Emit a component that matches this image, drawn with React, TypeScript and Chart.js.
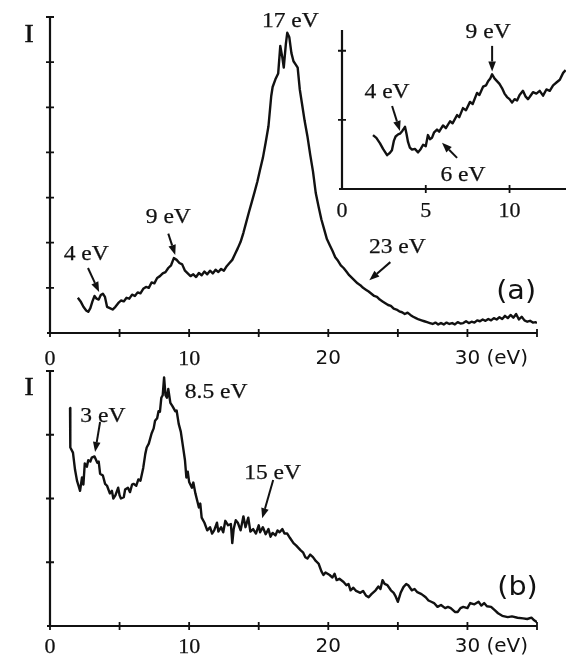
import React, { useEffect, useRef } from "react";
import { Chart, registerables } from "chart.js";

Chart.register(...registerables);

const PAGE_W = 566;
const PAGE_H = 658;
const INK = "#111111";

// ---------------- data (energy eV, intensity in tick units) ----------------
const SPECTRUM_A: [number, number][] = [
  [2.0, 0.78], [2.2, 0.7], [2.4, 0.58], [2.6, 0.5], [2.75, 0.47], [2.9, 0.55], [3.05, 0.7], [3.2, 0.82],
  [3.35, 0.76], [3.5, 0.74], [3.65, 0.84], [3.8, 0.87], [3.95, 0.8], [4.1, 0.58], [4.3, 0.55], [4.5, 0.52],
  [4.7, 0.58], [4.9, 0.66], [5.1, 0.72], [5.3, 0.7], [5.5, 0.78], [5.7, 0.76], [5.9, 0.85], [6.1, 0.82],
  [6.3, 0.9], [6.5, 0.88], [6.7, 0.98], [6.9, 1.02], [7.1, 1.0], [7.3, 1.12], [7.5, 1.1], [7.7, 1.22],
  [7.9, 1.26], [8.1, 1.32], [8.3, 1.35], [8.5, 1.44], [8.7, 1.5], [8.9, 1.66], [9.1, 1.62], [9.3, 1.55],
  [9.5, 1.52], [9.7, 1.38], [9.9, 1.32], [10.1, 1.26], [10.3, 1.3], [10.5, 1.24], [10.7, 1.33], [10.9, 1.28],
  [11.1, 1.36], [11.3, 1.3], [11.5, 1.38], [11.7, 1.32], [11.9, 1.4], [12.1, 1.35], [12.3, 1.42], [12.5, 1.38],
  [12.7, 1.48], [12.9, 1.55], [13.1, 1.62], [13.3, 1.75], [13.5, 1.88], [13.7, 2.02], [13.9, 2.22], [14.1, 2.45],
  [14.3, 2.68], [14.5, 2.9], [14.7, 3.12], [14.9, 3.35], [15.1, 3.62], [15.3, 3.88], [15.5, 4.22], [15.7, 4.58],
  [15.9, 5.25], [16.0, 5.45], [16.2, 5.62], [16.4, 5.75], [16.55, 6.36], [16.7, 6.1], [16.8, 5.88], [16.95, 6.4],
  [17.05, 6.65], [17.2, 6.55], [17.35, 6.2], [17.5, 6.02], [17.65, 5.95], [17.8, 5.88], [17.95, 5.4], [18.1, 5.1],
  [18.3, 4.7], [18.5, 4.36], [18.7, 3.95], [18.9, 3.58], [19.1, 3.1], [19.3, 2.8], [19.5, 2.52], [19.7, 2.3],
  [19.9, 2.08], [20.1, 1.95], [20.3, 1.82], [20.5, 1.68], [20.7, 1.6], [20.9, 1.5], [21.1, 1.44], [21.3, 1.36],
  [21.5, 1.28], [21.7, 1.22], [21.9, 1.16], [22.1, 1.1], [22.3, 1.06], [22.5, 1.0], [22.7, 0.96], [22.9, 0.92],
  [23.1, 0.87], [23.3, 0.82], [23.5, 0.8], [23.7, 0.74], [23.9, 0.7], [24.1, 0.66], [24.3, 0.62], [24.5, 0.6],
  [24.7, 0.54], [24.9, 0.52], [25.1, 0.48], [25.3, 0.46], [25.5, 0.42], [25.7, 0.45], [25.9, 0.4], [26.1, 0.36],
  [26.3, 0.33], [26.5, 0.3], [26.7, 0.28], [26.9, 0.26], [27.1, 0.24], [27.3, 0.22], [27.5, 0.2], [27.7, 0.23],
  [27.9, 0.19], [28.1, 0.22], [28.3, 0.19], [28.5, 0.23], [28.7, 0.2], [28.9, 0.22], [29.1, 0.19], [29.3, 0.24],
  [29.5, 0.21], [29.7, 0.22], [29.9, 0.26], [30.1, 0.22], [30.3, 0.25], [30.5, 0.23], [30.7, 0.28], [30.9, 0.26],
  [31.1, 0.3], [31.3, 0.27], [31.5, 0.31], [31.7, 0.28], [31.9, 0.33], [32.1, 0.3], [32.3, 0.35], [32.5, 0.31],
  [32.7, 0.38], [32.9, 0.33], [33.1, 0.4], [33.3, 0.34], [33.5, 0.42], [33.7, 0.3], [33.9, 0.36], [34.1, 0.28],
  [34.3, 0.25], [34.5, 0.27], [34.7, 0.23], [34.9, 0.24], [35.0, 0.22],
];

const SPECTRUM_INSET: [number, number][] = [
  [1.85, 0.78], [2.05, 0.74], [2.27, 0.66], [2.45, 0.58], [2.69, 0.49], [2.85, 0.52], [2.98, 0.56], [3.1, 0.7],
  [3.2, 0.76], [3.35, 0.79], [3.46, 0.8], [3.6, 0.84], [3.76, 0.9], [3.85, 0.8], [3.94, 0.68], [4.05, 0.6],
  [4.18, 0.57], [4.35, 0.58], [4.54, 0.53], [4.7, 0.58], [4.84, 0.64], [5.0, 0.62], [5.13, 0.78], [5.25, 0.72],
  [5.37, 0.74], [5.5, 0.82], [5.67, 0.86], [5.8, 0.83], [6.03, 0.92], [6.2, 0.88], [6.45, 0.98], [6.6, 0.95],
  [6.87, 1.07], [7.0, 1.04], [7.22, 1.17], [7.4, 1.14], [7.64, 1.26], [7.8, 1.23], [8.06, 1.39], [8.2, 1.36],
  [8.42, 1.48], [8.6, 1.5], [8.72, 1.56], [8.85, 1.6], [8.96, 1.66], [9.1, 1.6], [9.25, 1.56], [9.4, 1.52],
  [9.55, 1.46], [9.7, 1.38], [9.85, 1.33], [10.0, 1.3], [10.15, 1.25], [10.3, 1.3], [10.45, 1.28], [10.6, 1.36],
  [10.8, 1.42], [10.95, 1.34], [11.1, 1.3], [11.2, 1.33], [11.4, 1.4], [11.6, 1.38], [11.8, 1.42], [12.0, 1.35],
  [12.2, 1.44], [12.4, 1.42], [12.6, 1.5], [12.8, 1.54], [13.0, 1.58], [13.2, 1.68], [13.35, 1.72],
];

const SPECTRUM_B: [number, number][] = [
  [1.44, 3.42], [1.46, 2.8], [1.65, 2.72], [1.8, 2.45], [1.94, 2.28], [2.05, 2.2], [2.16, 2.12], [2.3, 2.33],
  [2.4, 2.22], [2.5, 2.55], [2.65, 2.5], [2.75, 2.6], [2.9, 2.58], [3.0, 2.64], [3.2, 2.66], [3.4, 2.56],
  [3.5, 2.58], [3.6, 2.39], [3.8, 2.36], [3.96, 2.23], [4.1, 2.2], [4.3, 2.08], [4.45, 2.12], [4.55, 2.0],
  [4.7, 2.05], [4.9, 2.17], [5.0, 2.05], [5.1, 2.0], [5.3, 2.02], [5.4, 2.14], [5.6, 2.17], [5.75, 2.1],
  [5.9, 2.22], [6.0, 2.23], [6.2, 2.2], [6.35, 2.3], [6.5, 2.28], [6.7, 2.48], [6.85, 2.7], [6.95, 2.8],
  [7.1, 2.86], [7.3, 3.02], [7.45, 3.1], [7.55, 3.22], [7.7, 3.26], [7.8, 3.37], [7.9, 3.36], [8.0, 3.58],
  [8.1, 3.62], [8.2, 3.9], [8.3, 3.62], [8.4, 3.58], [8.5, 3.72], [8.65, 3.5], [8.8, 3.45], [9.0, 3.37],
  [9.1, 3.38], [9.25, 3.17], [9.4, 3.05], [9.5, 2.9], [9.6, 2.75], [9.7, 2.6], [9.8, 2.33], [9.9, 2.42],
  [10.0, 2.26], [10.2, 2.17], [10.3, 2.25], [10.45, 2.08], [10.6, 1.95], [10.7, 1.86], [10.8, 1.92], [10.9, 1.7],
  [11.1, 1.62], [11.3, 1.5], [11.5, 1.55], [11.65, 1.45], [11.8, 1.5], [12.0, 1.62], [12.1, 1.48], [12.3, 1.55],
  [12.45, 1.47], [12.6, 1.65], [12.8, 1.58], [13.0, 1.6], [13.1, 1.3], [13.2, 1.52], [13.35, 1.66], [13.5, 1.62],
  [13.7, 1.5], [13.9, 1.72], [14.05, 1.55], [14.25, 1.7], [14.4, 1.48], [14.6, 1.52], [14.8, 1.45], [15.0, 1.58],
  [15.1, 1.47], [15.3, 1.55], [15.5, 1.44], [15.7, 1.52], [15.85, 1.4], [16.0, 1.46], [16.2, 1.42], [16.35, 1.5],
  [16.5, 1.47], [16.7, 1.52], [16.85, 1.45], [17.05, 1.45], [17.25, 1.38], [17.5, 1.3], [17.7, 1.26], [18.0, 1.19],
  [18.2, 1.15], [18.35, 1.08], [18.5, 1.06], [18.7, 1.12], [18.9, 1.08], [19.1, 1.02], [19.3, 0.98], [19.5, 0.86],
  [19.65, 0.8], [19.8, 0.84], [20.1, 0.8], [20.3, 0.76], [20.45, 0.82], [20.6, 0.72], [20.8, 0.74], [21.1, 0.69],
  [21.3, 0.64], [21.45, 0.66], [21.6, 0.56], [21.8, 0.6], [22.0, 0.55], [22.3, 0.52], [22.5, 0.55], [22.7, 0.48],
  [22.9, 0.45], [23.1, 0.5], [23.4, 0.56], [23.6, 0.62], [23.75, 0.58], [23.9, 0.72], [24.05, 0.66], [24.25, 0.64],
  [24.5, 0.56], [24.7, 0.52], [24.85, 0.46], [25.0, 0.38], [25.2, 0.52], [25.4, 0.61], [25.6, 0.66], [25.75, 0.64],
  [26.0, 0.56], [26.2, 0.58], [26.4, 0.53], [26.7, 0.5], [27.0, 0.45], [27.2, 0.4], [27.4, 0.38], [27.6, 0.36],
  [27.85, 0.3], [28.1, 0.33], [28.4, 0.28], [28.6, 0.3], [28.8, 0.28], [29.1, 0.22], [29.3, 0.22], [29.5, 0.28],
  [29.7, 0.3], [30.0, 0.28], [30.2, 0.36], [30.5, 0.34], [30.8, 0.38], [31.0, 0.32], [31.2, 0.36], [31.4, 0.31],
  [31.7, 0.3], [32.0, 0.24], [32.2, 0.2], [32.5, 0.16], [32.9, 0.14], [33.2, 0.15], [33.6, 0.13], [34.0, 0.12],
  [34.3, 0.11], [34.6, 0.13], [34.8, 0.09], [35.0, 0.06],
];

// ---------------- ticks & labels ----------------
const X_TICKS_MAIN = [0, 5, 10, 15, 20, 25, 30, 35];
const Y_TICKS_A = [1, 2, 3, 4, 5, 6, 7];
const Y_TICKS_B = [1, 2, 3, 4];
const X_TICKS_INSET = [5, 10];
const Y_TICKS_INSET = [1, 2];
const X_LABEL_VALUES_MAIN = [0, 10, 20, 30];
const X_LABEL_TEXTS_MAIN = ["0", "10", "20", "30 (eV)"];
const X_LABEL_VALUES_INSET = [0, 5, 10];
const X_LABEL_TEXTS_INSET = ["0", "5", "10"];
const PEAK_TEXTS_A = ["4 eV", "9 eV", "17 eV", "23 eV"];
const PEAK_TEXTS_INSET = ["4 eV", "9 eV", "6 eV"];
const PEAK_TEXTS_B = ["3 eV", "8.5 eV", "15 eV"];

// ---------------- styling / placement ----------------
const SERIF = "'Liberation Serif', 'Times New Roman', serif";
const SANS = "'DejaVu Sans', 'Liberation Sans', sans-serif";

type Note = { text: string; at: [number, number]; tail?: [number, number]; tip?: [number, number] };
type Panel = {
  data: [number, number][];
  x: [number, number];
  y: [number, number];
  area: { left: number; top: number; right: number; bottom: number };
  xTicks: number[];
  yTicks: number[];
  labelValues: number[];
  labelTexts: string[];
  labelGap: number;
  serifUpTo: number;
  notes: Note[];
  tags: { text: string; at: [number, number]; font: string; sx: number; weight: number }[];
};

const PANEL_A: Panel = {
  data: SPECTRUM_A,
  x: [0, 35],
  y: [0, 7],
  area: { left: 50, top: 17, right: 537, bottom: 333 },
  xTicks: X_TICKS_MAIN,
  yTicks: Y_TICKS_A,
  labelValues: X_LABEL_VALUES_MAIN,
  labelTexts: X_LABEL_TEXTS_MAIN,
  labelGap: 26,
  serifUpTo: 10,
  notes: [
    { text: PEAK_TEXTS_A[0], at: [2.6, 1.73], tail: [2.73, 1.44], tip: [3.53, 0.91] },
    { text: PEAK_TEXTS_A[1], at: [8.5, 2.55], tail: [8.5, 2.2], tip: [9.0, 1.73] },
    { text: PEAK_TEXTS_A[2], at: [17.27, 6.91] },
    { text: PEAK_TEXTS_A[3], at: [24.96, 1.9], tail: [24.46, 1.57], tip: [22.95, 1.17] },
  ],
  tags: [
    { text: "(a)", at: [33.5, 0.91], font: `26px ${SANS}`, sx: 1.1, weight: 0 },
    { text: "I", at: [-1.5, 6.6], font: `25px ${SERIF}`, sx: 1.1, weight: 0.5 },
  ],
};

const PANEL_INSET: Panel = {
  data: SPECTRUM_INSET,
  x: [0, 13.37],
  y: [0, 2.3],
  area: { left: 342, top: 30, right: 566, bottom: 189 },
  xTicks: X_TICKS_INSET,
  yTicks: Y_TICKS_INSET,
  labelValues: X_LABEL_VALUES_INSET,
  labelTexts: X_LABEL_TEXTS_INSET,
  labelGap: 22,
  serifUpTo: 99,
  notes: [
    { text: PEAK_TEXTS_INSET[0], at: [2.69, 1.39], tail: [2.99, 1.2], tip: [3.46, 0.84] },
    { text: PEAK_TEXTS_INSET[1], at: [8.72, 2.26], tail: [8.96, 2.07], tip: [8.96, 1.7] },
    { text: PEAK_TEXTS_INSET[2], at: [7.22, 0.2], tail: [6.87, 0.45], tip: [5.97, 0.67] },
  ],
  tags: [],
};

const PANEL_B: Panel = {
  data: SPECTRUM_B,
  x: [0, 35],
  y: [0, 4],
  area: { left: 50, top: 371, right: 537, bottom: 626 },
  xTicks: X_TICKS_MAIN,
  yTicks: Y_TICKS_B,
  labelValues: X_LABEL_VALUES_MAIN,
  labelTexts: X_LABEL_TEXTS_MAIN,
  labelGap: 21,
  serifUpTo: 10,
  notes: [
    { text: PEAK_TEXTS_B[0], at: [3.8, 3.29], tail: [3.6, 3.2], tip: [3.24, 2.73] },
    { text: PEAK_TEXTS_B[1], at: [11.94, 3.67] },
    { text: PEAK_TEXTS_B[2], at: [16.0, 2.4], tail: [16.04, 2.29], tip: [15.25, 1.69] },
  ],
  tags: [
    { text: "(b)", at: [33.6, 0.6], font: `26px ${SANS}`, sx: 1.1, weight: 0 },
    { text: "I", at: [-1.5, 3.73], font: `25px ${SERIF}`, sx: 1.1, weight: 0.5 },
  ],
};

function drawText(ctx: CanvasRenderingContext2D, text: string, x: number, y: number, font: string, sx: number, align: CanvasTextAlign = "center", weight = 0) {
  ctx.save();
  ctx.translate(x, y);
  ctx.scale(sx, 1);
  ctx.font = font;
  ctx.textAlign = align;
  ctx.textBaseline = "middle";
  ctx.fillText(text, 0, 0);
  if (weight > 0) {
    ctx.lineWidth = weight;
    ctx.strokeText(text, 0, 0);
  }
  ctx.restore();
}

const decorPlugin = {
  id: "decor",
  afterDraw(chart: any, _args: any, opts: any) {
    const panel: Panel = opts.panel;
    const ctx: CanvasRenderingContext2D = chart.ctx;
    const xs = chart.scales.x;
    const ys = chart.scales.y;
    const X = (v: number) => xs.getPixelForValue(v);
    const Y = (v: number) => ys.getPixelForValue(v);
    ctx.save();
    ctx.strokeStyle = INK;
    ctx.fillStyle = INK;
    ctx.lineWidth = 2.2;
    ctx.lineCap = "butt";
    const x0 = X(panel.x[0]);
    const y0 = Y(panel.y[0]);
    ctx.beginPath();
    ctx.moveTo(x0, Y(panel.y[1]));
    ctx.lineTo(x0, y0);
    ctx.moveTo(x0 - 3, y0);
    ctx.lineTo(X(panel.x[1]), y0);
    ctx.stroke();
    ctx.lineWidth = 1.8;
    ctx.beginPath();
    for (const t of panel.yTicks) {
      ctx.moveTo(x0 - 4, Y(t));
      ctx.lineTo(x0 + 4, Y(t));
    }
    for (const t of panel.xTicks) {
      ctx.moveTo(X(t), y0 - 4);
      ctx.lineTo(X(t), y0 + 4);
    }
    ctx.stroke();

    // x tick labels
    panel.labelValues.forEach((v, i) => {
      const text = panel.labelTexts[i];
      const serif = v <= panel.serifUpTo;
      const font = serif ? `22px ${SERIF}` : `20px ${SANS}`;
      const head = text.split(" ")[0];
      ctx.font = font;
      const hw = ctx.measureText(head).width / 2;
      drawText(ctx, text, X(v) - hw, y0 + panel.labelGap, font, 1, "left", serif ? 0.25 : 0);
    });

    // peak notes with arrows
    for (const n of panel.notes) {
      drawText(ctx, n.text, X(n.at[0]), Y(n.at[1]), `21px ${SERIF}`, 1.12, "center", 0.25);
      if (n.tail && n.tip) {
        const tx = X(n.tail[0]), ty = Y(n.tail[1]);
        const px = X(n.tip[0]), py = Y(n.tip[1]);
        const ang = Math.atan2(py - ty, px - tx);
        const hl = 10, hw = 3.8;
        const bx = px - hl * Math.cos(ang), by = py - hl * Math.sin(ang);
        ctx.lineWidth = 2;
        ctx.beginPath();
        ctx.moveTo(tx, ty);
        ctx.lineTo(bx, by);
        ctx.stroke();
        ctx.beginPath();
        ctx.moveTo(px, py);
        ctx.lineTo(bx - hw * Math.sin(ang), by + hw * Math.cos(ang));
        ctx.lineTo(bx + hw * Math.sin(ang), by - hw * Math.cos(ang));
        ctx.closePath();
        ctx.fill();
      }
    }
    for (const t of panel.tags) {
      drawText(ctx, t.text, X(t.at[0]), Y(t.at[1]), t.font, t.sx, "center", t.weight);
    }
    ctx.restore();
  },
};

function buildConfig(panel: Panel): any {
  return {
    type: "line",
    data: {
      datasets: [
        {
          data: panel.data.map(([x, y]) => ({ x, y })),
          borderColor: INK,
          borderWidth: 2.4,
          borderJoinStyle: "round",
          pointRadius: 0,
          fill: false,
          tension: 0,
        },
      ],
    },
    options: {
      responsive: false,
      animation: false,
      devicePixelRatio: 1,
      events: [],
      layout: {
        padding: {
          left: panel.area.left,
          top: panel.area.top,
          right: PAGE_W - panel.area.right,
          bottom: PAGE_H - panel.area.bottom,
        },
      },
      scales: {
        x: { type: "linear", min: panel.x[0], max: panel.x[1], display: false },
        y: { type: "linear", min: panel.y[0], max: panel.y[1], display: false },
      },
      plugins: {
        legend: { display: false },
        tooltip: { enabled: false },
        decor: { panel },
      },
    },
    plugins: [decorPlugin],
  };
}

function PanelCanvas({ panel }: { panel: Panel }) {
  const ref = useRef<HTMLCanvasElement>(null);
  useEffect(() => {
    if (!ref.current) return;
    const chart = new Chart(ref.current, buildConfig(panel));
    return () => chart.destroy();
  }, [panel]);
  return (
    <canvas
      ref={ref}
      width={PAGE_W}
      height={PAGE_H}
      style={{ position: "absolute", left: 0, top: 0, width: PAGE_W, height: PAGE_H }}
    />
  );
}

export default function App() {
  return (
    <div style={{ position: "fixed", left: 0, top: 0, width: PAGE_W, height: PAGE_H, background: "#fff" }}>
      <PanelCanvas panel={PANEL_A} />
      <PanelCanvas panel={PANEL_INSET} />
      <PanelCanvas panel={PANEL_B} />
    </div>
  );
}
